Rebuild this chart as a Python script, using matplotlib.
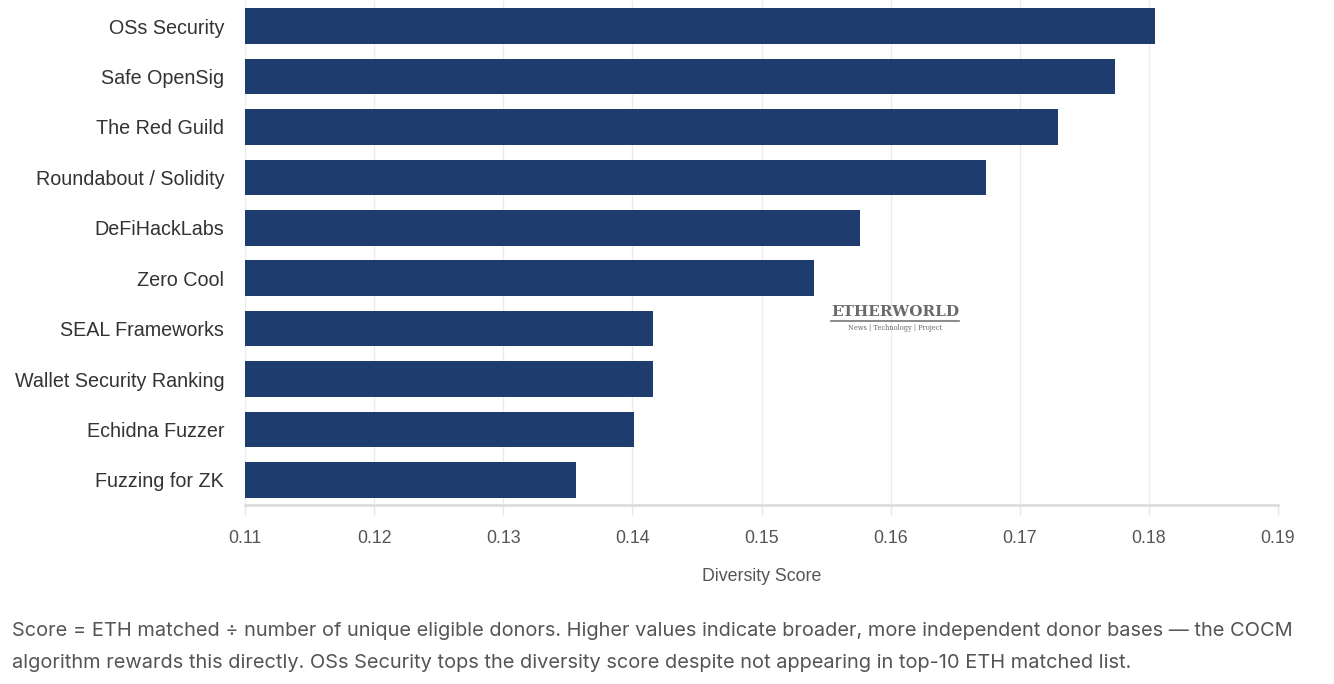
import matplotlib.pyplot as plt

# data
projects = ['OSs Security', 'Safe OpenSig', 'The Red Guild', 'Roundabout / Solidity',
            'DeFiHackLabs', 'Zero Cool', 'SEAL Frameworks', 'Wallet Security Ranking',
            'Echidna Fuzzer', 'Fuzzing for ZK']
scores = [0.1805, 0.1774, 0.1730, 0.1674, 0.1576, 0.1541, 0.1416, 0.1416, 0.1401, 0.1356]
x_ticks = [0.11, 0.12, 0.13, 0.14, 0.15, 0.16, 0.17, 0.18, 0.19]

caption = ('Score = ETH matched \u00f7 number of unique eligible donors. Higher values indicate broader, '
           'more independent donor bases \u2014 the COCM\n'
           'algorithm rewards this directly. OSs Security tops the diversity score despite not appearing '
           'in top-10 ETH matched list.')

plt.rcParams['font.family'] = ['Liberation Sans', 'DejaVu Sans']

fig = plt.figure(figsize=(13.34, 6.84), dpi=100)
ax = fig.add_axes([245 / 1334, 1 - 505 / 684, (1278 - 245) / 1334, 504 / 684])

pos = list(range(len(projects)))
ax.barh(pos, [s - 0.11 for s in scores], left=0.11, height=0.71, color='#1e3d6e', zorder=3)

ax.set_xlim(0.11, 0.19)
ax.set_ylim(len(projects) - 0.5, -0.5)
ax.set_yticks(pos)
ax.set_yticklabels(projects, fontsize=14.2, color='#333333')
ax.set_xticks(x_ticks)
ax.set_xticklabels([f'{t:g}' for t in x_ticks], fontsize=12.8, color='#555555')
ax.tick_params(axis='y', length=0, pad=15)
ax.tick_params(axis='x', length=7, width=1, color='#e6e6e6', pad=11)

ax.grid(axis='x', color='#ebebeb', linewidth=1, zorder=0)
for s in ['top', 'right', 'left']:
    ax.spines[s].set_visible(False)
ax.spines['bottom'].set_color('#dddddd')
ax.spines['bottom'].set_linewidth(2)

ax.set_xlabel('Diversity Score', fontsize=12.8, color='#555555', labelpad=15)

# watermark
fig.text(895 / 1334, 1 - 312 / 684, 'ETHERWORLD', family='DejaVu Serif', fontsize=11,
         color='#6a6a6a', ha='center', va='center', fontweight='bold')
fig.add_artist(plt.Line2D([831 / 1334, 959 / 1334], [1 - 321 / 684, 1 - 321 / 684],
                          color='#777777', linewidth=1.2))
fig.text(895 / 1334, 1 - 328 / 684, 'News | Technology | Project', family='DejaVu Serif',
         fontsize=4.8, color='#666666', ha='center', va='center')

fig.text(12 / 1334, 1 - 647 / 684, caption, family=['Inter', 'DejaVu Sans'], fontsize=14.4,
         color='#555555', ha='left', va='center', linespacing=2.05)

fig.savefig('out.png', dpi=100)
